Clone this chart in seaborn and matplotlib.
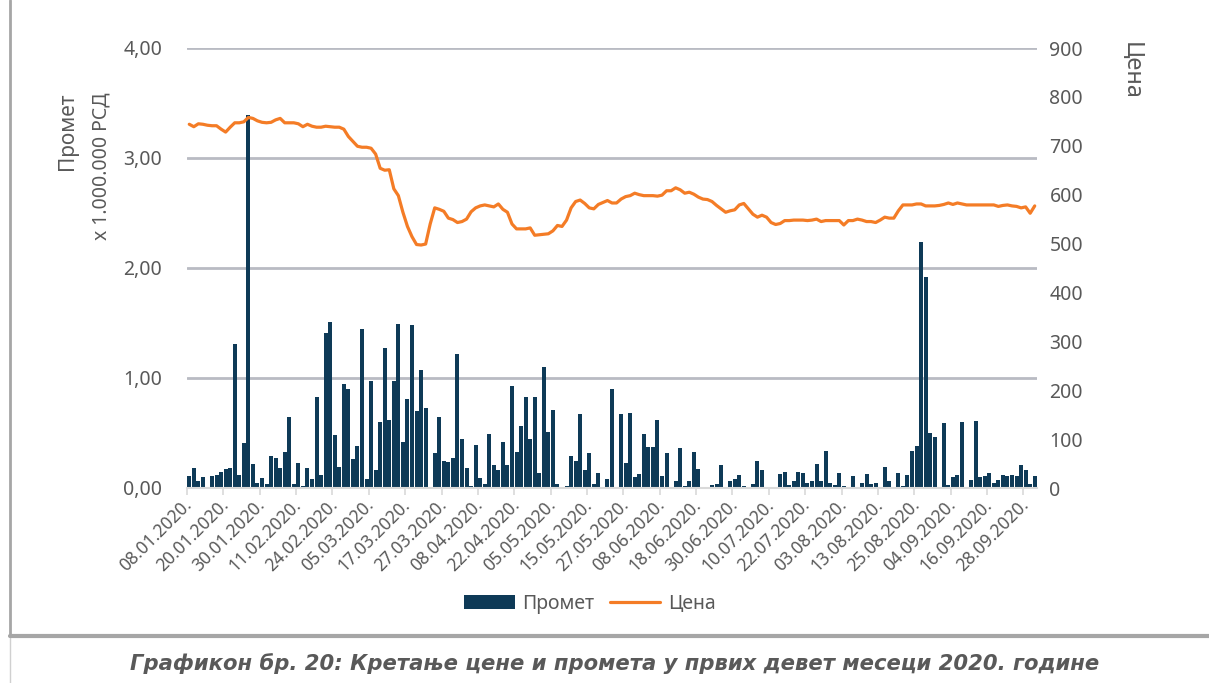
import matplotlib
matplotlib.use("Agg")
import matplotlib.pyplot as plt
import seaborn as sns
import numpy as np
from matplotlib.lines import Line2D
from matplotlib.patches import Patch

# ---------------- data ----------------
# daily turnover, in millions of RSD (one value per trading day, 08.01 - 30.09.2020)
turnover = [
    0.11, 0.18, 0.06, 0.10, 0.00, 0.11, 0.12, 0.15, 0.17, 0.18,
    1.31, 0.12, 0.41, 3.39, 0.22, 0.05, 0.09, 0.04, 0.29, 0.27,
    0.18, 0.33, 0.65, 0.04, 0.23, 0.02, 0.18, 0.08, 0.83, 0.12,
    1.41, 1.51, 0.48, 0.19, 0.95, 0.90, 0.26, 0.38, 1.45, 0.08,
    0.97, 0.16, 0.60, 1.27, 0.62, 0.97, 1.49, 0.42, 0.81, 1.48,
    0.70, 1.07, 0.73, 0.00, 0.32, 0.65, 0.25, 0.24, 0.27, 1.22,
    0.45, 0.18, 0.02, 0.39, 0.09, 0.04, 0.49, 0.21, 0.16, 0.42,
    0.21, 0.93, 0.33, 0.56, 0.83, 0.45, 0.83, 0.14, 1.10, 0.51,
    0.71, 0.04, 0.00, 0.02, 0.29, 0.25, 0.67, 0.16, 0.32, 0.04,
    0.14, 0.01, 0.08, 0.90, 0.00, 0.67, 0.23, 0.68, 0.10, 0.13,
    0.49, 0.37, 0.37, 0.62, 0.11, 0.32, 0.00, 0.06, 0.36, 0.02,
    0.06, 0.33, 0.17, 0.00, 0.00, 0.03, 0.04, 0.21, 0.01, 0.06,
    0.08, 0.12, 0.02, 0.01, 0.04, 0.25, 0.16, 0.01, 0.00, 0.00,
    0.13, 0.15, 0.03, 0.06, 0.15, 0.14, 0.05, 0.06, 0.22, 0.06,
    0.34, 0.05, 0.03, 0.14, 0.02, 0.00, 0.11, 0.01, 0.05, 0.13,
    0.04, 0.05, 0.00, 0.19, 0.06, 0.00, 0.14, 0.02, 0.12, 0.34,
    0.38, 2.24, 1.92, 0.50, 0.46, 0.00, 0.59, 0.03, 0.10, 0.12,
    0.60, 0.00, 0.07, 0.61, 0.10, 0.11, 0.14, 0.05, 0.07, 0.12,
    0.11, 0.12, 0.11, 0.21, 0.16, 0.04, 0.11,
]

# daily price, RSD
price = [
    744, 739, 745, 744, 742, 741, 741, 734, 728, 738,
    747, 747, 749, 758, 756, 751, 748, 747, 748, 753,
    756, 747, 747, 747, 745, 739, 744, 740, 738, 738,
    740, 739, 738, 738, 734, 719, 709, 699, 697, 697,
    695, 683, 654, 650, 651, 612, 598, 564, 535, 514,
    498, 497, 499, 540, 573, 570, 566, 552, 549, 543,
    545, 550, 565, 573, 577, 579, 577, 575, 581, 570,
    564, 540, 530, 530, 530, 532, 517, 518, 519, 520,
    526, 537, 535, 548, 573, 586, 589, 582, 573, 571,
    580, 584, 588, 583, 583, 591, 596, 598, 603, 600,
    598, 598, 598, 597, 599, 608, 608, 614, 610, 603,
    605, 601, 595, 591, 590, 586, 578, 571, 564, 567,
    569, 579, 582, 571, 560, 554, 558, 554, 543, 539,
    541, 547, 547, 548, 548, 548, 547, 548, 550, 545,
    547, 547, 547, 547, 538, 547, 547, 550, 548, 545,
    545, 543, 548, 554, 552, 552, 567, 579, 579, 579,
    581, 581, 577, 577, 577, 578, 580, 583, 580, 583,
    581, 579, 579, 579, 579, 579, 579, 579, 576, 578,
    579, 577, 576, 573, 575, 562, 577,
]

# every 8th trading day is labelled
date_labels = [
    "08.01.2020.", "20.01.2020.", "30.01.2020.", "11.02.2020.", "24.02.2020.",
    "05.03.2020.", "17.03.2020.", "27.03.2020.", "08.04.2020.", "22.04.2020.",
    "05.05.2020.", "15.05.2020.", "27.05.2020.", "08.06.2020.", "18.06.2020.",
    "30.06.2020.", "10.07.2020.", "22.07.2020.", "03.08.2020.", "13.08.2020.",
    "25.08.2020.", "04.09.2020.", "16.09.2020.", "28.09.2020.",
]
label_step = 8

left_ticks = [0, 1, 2, 3, 4]
left_tick_labels = ["0,00", "1,00", "2,00", "3,00", "4,00"]
right_ticks = [0, 100, 200, 300, 400, 500, 600, 700, 800, 900]

# ---------------- style ----------------
sns.set_style("white")
plt.rcParams['font.family'] = ['Noto Sans', 'DejaVu Sans']
TXT = '#595959'
BAR = '#0E3A57'
LINE = '#F47C26'
GRID = '#B9BBC3'

W, H = 1209, 683
fig = plt.figure(figsize=(W / 100, H / 100), dpi=100)
ax = fig.add_axes([187 / W, 1 - 488 / H, 850 / W, 440 / H])

idx = np.arange(len(turnover))
sns.barplot(x=idx, y=turnover, native_scale=True, color=BAR, width=0.88,
            saturation=1, linewidth=0, ax=ax)

ax.set_xlim(-0.5, len(turnover) - 0.5)
ax.set_ylim(0, 4)
ax.set_yticks(left_ticks)
ax.set_yticklabels(left_tick_labels)
ax.yaxis.grid(True, color=GRID, linewidth=2)
ax.set_axisbelow(True)
for s in ['top', 'left', 'right']:
    ax.spines[s].set_visible(False)
ax.spines['bottom'].set_color('#D9D9D9')
ax.spines['bottom'].set_linewidth(1.5)

label_pos = idx[::label_step]
ax.set_xticks(label_pos)
ax.set_xticklabels(date_labels, rotation=45, ha='right', va='center',
                   rotation_mode='anchor', fontsize=12.5, color=TXT)
ax.set_xticks(np.arange(-0.5, len(turnover), label_step), minor=True)
ax.tick_params(axis='x', which='major', length=0, pad=10)
ax.tick_params(axis='x', which='minor', length=5, width=1.2, color='#D9D9D9',
               bottom=True)
ax.tick_params(axis='y', length=0, pad=18, labelsize=14, labelcolor=TXT)
ax.set_xlabel('')
ax.set_ylabel('')

ax2 = ax.twinx()
sns.lineplot(x=idx, y=price, color=LINE, linewidth=2.3, ax=ax2)
ax2.set_ylim(0, 900)
ax2.set_yticks(right_ticks)
ax2.tick_params(axis='y', length=0, pad=9, labelsize=14, labelcolor=TXT)
for s in ax2.spines.values():
    s.set_visible(False)
ax2.set_ylabel('')

# axis titles
fig.text(67 / W, 1 - 93 / H, "Промет", rotation=90, ha='center', va='top',
         fontsize=15, color=TXT)
fig.text(101 / W, 1 - 93 / H, "x 1.000.000 РСД", rotation=90, ha='center',
         va='top', fontsize=14, color=TXT)
fig.text(1131 / W, 1 - 42 / H, "Цена", rotation=270, ha='center', va='top',
         fontsize=17, color=TXT)

# legend
handles = [Patch(facecolor=BAR, edgecolor='none'),
           Line2D([], [], color=LINE, linewidth=2.3)]
leg = fig.legend(handles, ["Промет", "Цена"], loc='center',
                 bbox_to_anchor=(590 / W, 1 - 604 / H), ncol=2, frameon=False,
                 fontsize=14, handlelength=2.6, handleheight=0.75,
                 handletextpad=0.4, columnspacing=0.8)
for t in leg.get_texts():
    t.set_color(TXT)

# outer frame of the chart box
fig.add_artist(Line2D([10 / W, 10 / W], [1 - 636 / H, 1], transform=fig.transFigure,
                      color='#A6A6A6', linewidth=2))
fig.add_artist(Line2D([10 / W, 10 / W], [0, 1 - 636 / H], transform=fig.transFigure,
                      color='#D0D0D0', linewidth=1))
fig.add_artist(Line2D([10 / W, 1], [1 - 636 / H, 1 - 636 / H], transform=fig.transFigure,
                      color='#A6A6A6', linewidth=3))

# caption
fig.text(615 / W, 1 - 664 / H,
         "Графикон бр. 20: Кретање цене и промета у првих девет месеци 2020. године",
         ha='center', va='center', fontsize=15.2, fontweight='bold', fontstyle='italic',
         family='DejaVu Sans', color=TXT)

fig.savefig("out.png", dpi=100)
